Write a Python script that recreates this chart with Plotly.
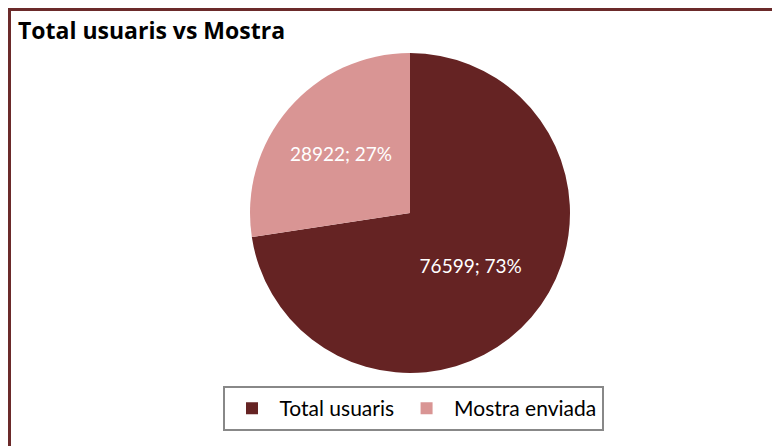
import plotly.graph_objects as go

labels = ["Total usuaris", "Mostra enviada"]
values = [76599, 28922]
colors = ["#652323", "#d99594"]

W, H = 780, 446
OFF = 8  # page offset of the figure

def px(x):
    return (x - OFF) / W

def py(y):
    return 1 - (y - OFF) / H

fig = go.Figure()
fig.add_trace(go.Pie(
    labels=labels, values=values, sort=False, direction="clockwise", rotation=0,
    marker=dict(colors=colors, line=dict(width=0)),
    texttemplate="%{value:d}; %{percent:.0%}", textposition="inside",
    insidetextorientation="horizontal",
    textfont=dict(color="white", size=19, family="Lato"),
    domain=dict(x=[px(250), px(570)], y=[py(373), py(53)]),
    hoverinfo="none",
))
fig.update_layout(
    width=W, height=H, margin=dict(l=0, r=0, t=0, b=0),
    paper_bgcolor="white", plot_bgcolor="white",
    font=dict(family="Lato", color="black"),
    title=dict(text="<b>Total usuaris vs Mostra</b>", x=px(18), xanchor="left",
               y=py(31), yanchor="middle", font=dict(size=23, family="Open Sans")),
    legend=dict(orientation="h", x=px(413), xanchor="center", y=py(386), yanchor="top",
                bordercolor="#888888", borderwidth=2, font=dict(size=21, family="Lato"),
                itemwidth=45, traceorder="normal"),
    shapes=[
        dict(type="line", xref="paper", yref="paper", x0=0, x1=1, y0=py(9.5), y1=py(9.5),
             line=dict(color="#6b2a2a", width=3)),
        dict(type="line", xref="paper", yref="paper", x0=px(9.5), x1=px(9.5), y0=0, y1=py(9.5),
             line=dict(color="#6b2a2a", width=3)),
    ],
)
fig.write_html("out.html")
